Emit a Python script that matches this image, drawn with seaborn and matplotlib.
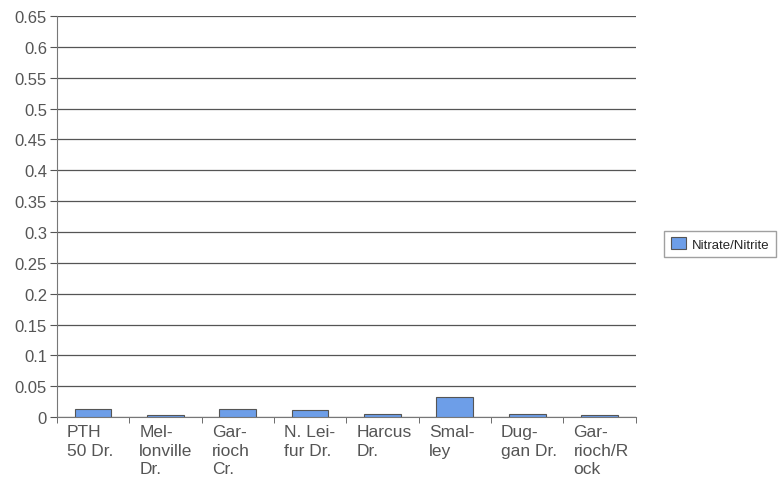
import matplotlib
matplotlib.use("Agg")
import matplotlib.pyplot as plt
import numpy as np
import pandas as pd
import seaborn as sns
from matplotlib.patches import Patch
from matplotlib.transforms import ScaledTranslation

sites = ["PTH\n50 Dr.", "Mel-\nlonville\nDr.", "Gar-\nrioch\nCr.", "N. Lei-\nfur Dr.",
         "Harcus\nDr.", "Smal-\nley", "Dug-\ngan Dr.", "Gar-\nrioch/R\nock"]
nitrate = [0.0135, 0.004, 0.0135, 0.011, 0.0055, 0.0325, 0.0055, 0.004]
yticks = np.round(np.arange(0, 0.651, 0.05), 2)

sns.set_style("white")
plt.rcParams["font.family"] = ["Liberation Sans", "DejaVu Sans"]

df = pd.DataFrame({"site": sites, "value": nitrate})

fig = plt.figure(figsize=(7.78, 4.85), dpi=100)
ax = fig.add_axes([0.073, 0.138, 0.744, 0.827])

sns.barplot(data=df, x="site", y="value", color="#6d9ee8", width=0.51,
            edgecolor="#555555", linewidth=0.8, saturation=1, ax=ax, zorder=3)

ax.set_ylim(0, 0.65)
ax.set_xlim(-0.5, len(sites) - 0.5)
ax.set_yticks(yticks)
ax.set_yticklabels([f"{v:g}" for v in yticks], fontsize=12, color="#555555")
ax.yaxis.grid(True, color="#555555", linewidth=0.9, zorder=0)
ax.set_xlabel("")
ax.set_ylabel("")

# labels left-aligned near each bar, ticks on category boundaries
ax.set_xticks(np.arange(len(sites)))
ax.set_xticklabels(sites, fontsize=12.5, color="#555555", ha="left", va="top", linespacing=1.3)
ax.tick_params(axis="x", length=0, pad=5)
offset = ScaledTranslation(-0.26, 0, fig.dpi_scale_trans)
for lbl in ax.get_xticklabels():
    lbl.set_transform(lbl.get_transform() + offset)
ax.set_xticks(np.arange(len(sites) + 1) - 0.5, minor=True)
ax.tick_params(axis="x", which="minor", length=4, color="#555555", direction="out", bottom=True)
ax.tick_params(axis="y", length=5, color="#555555", direction="out", left=True, pad=2)

for side in ["top", "right"]:
    ax.spines[side].set_visible(False)
ax.spines["left"].set_color("#777777")
ax.spines["bottom"].set_color("#777777")

handle = Patch(facecolor="#6d9ee8", edgecolor="#555555", linewidth=0.8, label="Nitrate/Nitrite")
fig.legend(handles=[handle], loc="center left", bbox_to_anchor=(0.845, 0.495),
           fontsize=9.5, frameon=True, fancybox=False, edgecolor="#888888",
           handlelength=1.2, handleheight=1.0, handletextpad=0.4, borderpad=0.5)

fig.savefig("out.png", dpi=100)
